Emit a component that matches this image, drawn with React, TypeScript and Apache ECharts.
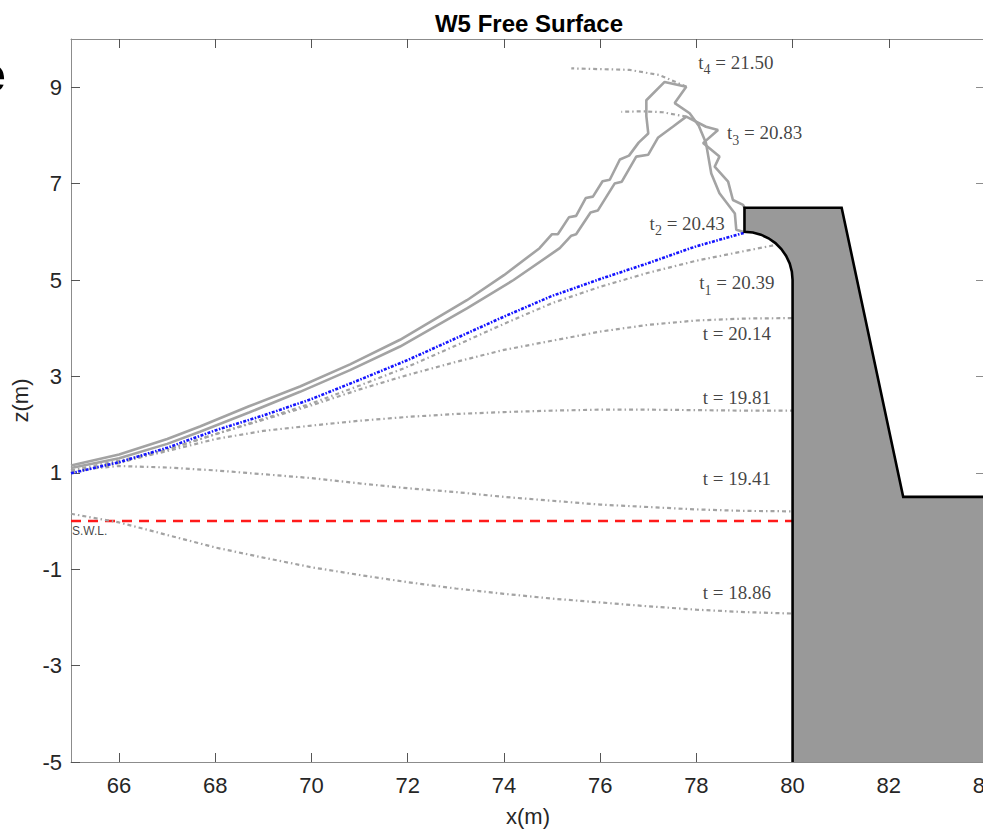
import React, { useEffect, useRef } from "react";
import * as echarts from "echarts";

// ---- axis ticks ----
const xTicks = [66, 68, 70, 72, 74, 76, 78, 80, 82, 84];
const zTicks = [-5, -3, -1, 1, 3, 5, 7, 9];

// ---- free surface profiles ----
const xT1886 = [65, 66, 67, 68, 69, 70, 71, 72, 73, 74, 75, 76, 77, 78, 79, 80];
const zT1886 = [0.15, -0.03, -0.29, -0.55, -0.76, -0.96, -1.12, -1.27, -1.4, -1.51, -1.61, -1.69, -1.77, -1.84, -1.89, -1.92];

const xT1941 = [65, 66, 67, 68, 69, 70, 71, 72, 73, 74, 75, 76, 77, 78, 79, 80];
const zT1941 = [1.05, 1.14, 1.11, 1.05, 0.97, 0.89, 0.78, 0.68, 0.6, 0.5, 0.42, 0.34, 0.29, 0.24, 0.21, 0.2];

const xT1981 = [65, 66, 67, 68, 69, 70, 71, 72, 73, 74, 75, 76, 77, 78, 79, 80];
const zT1981 = [1.0, 1.22, 1.45, 1.7, 1.87, 1.98, 2.08, 2.16, 2.22, 2.26, 2.29, 2.31, 2.31, 2.3, 2.29, 2.29];

const xT2014 = [65, 66, 67, 68, 69, 70, 71, 72, 73, 74, 75, 76, 77, 78, 79, 80];
const zT2014 = [1.05, 1.25, 1.48, 1.8, 2.1, 2.4, 2.73, 3.03, 3.3, 3.55, 3.74, 3.93, 4.07, 4.16, 4.2, 4.21];

const xT1 = [65, 66, 67, 68, 69, 70, 71, 72, 73, 74, 75, 76, 77, 78, 79, 79.66];
const zT1 = [1.0, 1.2, 1.48, 1.8, 2.12, 2.44, 2.81, 3.2, 3.64, 4.09, 4.52, 4.86, 5.15, 5.4, 5.6, 5.73];

const xT2 = [65, 66, 67, 68, 69, 70, 71, 72, 73, 74, 75, 76, 77, 78, 79];
const zT2 = [0.99, 1.22, 1.52, 1.88, 2.19, 2.53, 2.93, 3.34, 3.79, 4.24, 4.67, 5.02, 5.35, 5.7, 5.98];

const xT3 = [65, 66, 67, 67.68, 68.7, 69.76, 70.8, 71.84, 73.23, 74.2, 75.16, 75.4, 75.5, 75.8, 75.95, 76.3, 76.45, 76.75, 77.0, 77.2, 77.51, 77.79,
  78.2, 78.45, 78.14, 78.48, 78.38, 78.66, 78.76, 78.97, 79.0];
const zT3 = [1.1, 1.3, 1.6, 1.85, 2.25, 2.68, 3.13, 3.62, 4.41, 5.0, 5.66, 5.92, 5.95, 6.4, 6.44, 7.0, 7.04, 7.56, 7.6, 7.95, 8.18, 8.39,
  8.18, 8.11, 7.84, 7.56, 7.35, 7.04, 6.66, 6.56, 6.5];
const xT3tip = [77.79, 77.3, 76.9, 76.44];
const zT3tip = [8.39, 8.48, 8.5, 8.49];

const xT4 = [65, 66, 67, 67.68, 68.7, 69.76, 70.8, 71.84, 73.23, 74.0, 74.74, 75.0, 75.12, 75.35, 75.5, 75.7, 75.85, 76.05, 76.2, 76.41, 76.6, 76.8, 77.0, 76.96, 76.96, 77.34, 77.79,
  77.55, 77.86, 78.05, 78.2, 78.31, 78.48, 78.8, 78.83, 78.97];
const zT4 = [1.15, 1.38, 1.7, 1.96, 2.38, 2.79, 3.25, 3.76, 4.58, 5.1, 5.66, 5.95, 5.95, 6.3, 6.33, 6.7, 6.73, 7.05, 7.08, 7.5, 7.58, 7.85, 8.04, 8.4, 8.73, 9.11, 9.01,
  8.67, 8.46, 8.2, 7.84, 7.21, 6.8, 6.38, 6.04, 6.0];
const xT4tip = [77.79, 77.24, 76.61, 75.4];
const zT4tip = [9.01, 9.25, 9.36, 9.39];

// ---- still water level ----
const xSWL = [65, 80];
const zSWL = [0, 0];

// ---- seawall outline (last point closes the fill) ----
const wallX = [80, 80, 79.985, 79.94, 79.866, 79.766, 79.643, 79.5, 79.342, 79.174, 79, 79, 81.02, 82.3, 84, 84];
const wallZ = [-5, 5, 5.174, 5.342, 5.5, 5.643, 5.766, 5.866, 5.94, 5.985, 6, 6.5, 6.5, 0.5, 0.5, -5];

// ---- annotations ----
const labelText = ["t = 18.86", "t = 19.41", "t = 19.81", "t = 20.14", "{m|t}{s|1}{m| = 20.39}", "{m|t}{s|2}{m| = 20.43}", "{m|t}{s|3}{m| = 20.83}", "{m|t}{s|4}{m| = 21.50}"];
const labelX = [78.84, 78.84, 78.84, 78.84, 78.84, 77.81, 79.42, 78.82];
const labelZ = [-1.49, 0.89, 2.57, 3.9, 4.89, 6.13, 8.0, 9.47];

const pairs = (xs: number[], zs: number[]) => xs.map((x, i) => [x, zs[i]]);

const GRAY = "#a3a3a3";
const dashDot = (color: string, width: number) => ({ color, width, type: [4, 3, 1.5, 3] as number[] });

function buildOption() {
  const axisColor = "#8c8c8c";
  const labelColor = "#262626";
  const font = "'Liberation Sans', Arial, sans-serif";
  const serif = "'Liberation Serif', 'Times New Roman', serif";

  const profile = (name: string, xs: number[], zs: number[], ls: any) => ({
    name,
    type: "line",
    data: pairs(xs, zs),
    symbol: "none",
    lineStyle: ls,
    z: 2,
    silent: true,
  });

  return {
    animation: false,
    backgroundColor: "#ffffff",
    title: {
      text: "W5 Free Surface",
      left: 524,
      textAlign: "center",
      top: 6,
      textStyle: { fontSize: 24, fontWeight: "bold", color: "#000", fontFamily: font },
    },
    graphic: [
      {
        type: "text",
        left: -22,
        top: 50,
        style: { text: "e", font: "bold 50px 'Liberation Sans', Arial, sans-serif", fill: "#000" },
      },
    ],
    grid: { left: 71, right: -2, top: 39, bottom: 67, outerBoundsMode: "none", containLabel: false },
    xAxis: [
      {
        type: "value",
        min: 65,
        max: 84,
        position: "bottom",
        axisLine: { show: true, onZero: false, lineStyle: { color: axisColor, width: 1 } },
        axisTick: { show: true, inside: true, length: 9, customValues: xTicks, lineStyle: { color: "#555" } },
        axisLabel: { customValues: xTicks, fontSize: 22, color: labelColor, fontFamily: font, margin: 12 },
        splitLine: { show: false },
        name: "x(m)",
        nameLocation: "middle",
        nameGap: 43,
        nameTextStyle: { fontSize: 22, color: labelColor, fontFamily: font },
      },
      {
        type: "value",
        min: 65,
        max: 84,
        position: "top",
        axisLine: { show: true, onZero: false, lineStyle: { color: axisColor, width: 1 } },
        axisTick: { show: true, inside: true, length: 9, customValues: xTicks, lineStyle: { color: "#555" } },
        axisLabel: { show: false },
        splitLine: { show: false },
      },
    ],
    yAxis: [
      {
        type: "value",
        min: -5,
        max: 10,
        position: "left",
        axisLine: { show: true, onZero: false, lineStyle: { color: axisColor, width: 1 } },
        axisTick: { show: true, inside: true, length: 9, customValues: zTicks, lineStyle: { color: "#555" } },
        axisLabel: { customValues: zTicks, fontSize: 22, color: labelColor, fontFamily: font, margin: 9 },
        splitLine: { show: false },
        name: "z(m)",
        nameLocation: "middle",
        nameGap: 40,
        nameRotate: 90,
        nameTextStyle: { fontSize: 22, color: labelColor, fontFamily: font },
      },
      {
        type: "value",
        min: -5,
        max: 10,
        position: "right",
        axisLine: { show: true, onZero: false, lineStyle: { color: axisColor, width: 1 } },
        axisTick: { show: true, inside: true, length: 9, customValues: zTicks },
        axisLabel: { show: false },
        splitLine: { show: false },
      },
    ],
    series: [
      {
        name: "S.W.L.",
        type: "line",
        data: pairs(xSWL, zSWL),
        symbol: "none",
        lineStyle: { color: "#ff1a1a", width: 2.5, type: [10, 7] },
        z: 2,
        silent: true,
      },
      profile("t = 18.86", xT1886, zT1886, dashDot(GRAY, 2.2)),
      profile("t = 19.41", xT1941, zT1941, dashDot(GRAY, 2.2)),
      profile("t = 19.81", xT1981, zT1981, dashDot(GRAY, 2.2)),
      profile("t = 20.14", xT2014, zT2014, dashDot(GRAY, 2.2)),
      profile("t1 = 20.39", xT1, zT1, dashDot(GRAY, 2.2)),
      profile("t3 = 20.83", xT3, zT3, { color: GRAY, width: 2.6, type: "solid" }),
      profile("t3 tip", xT3tip, zT3tip, { color: GRAY, width: 2.2, type: [4, 3, 1.5, 3] }),
      profile("t4 = 21.50", xT4, zT4, { color: GRAY, width: 2.6, type: "solid" }),
      profile("t4 tip", xT4tip, zT4tip, { color: GRAY, width: 2.2, type: [4, 3, 1.5, 3] }),
      profile("t2 = 20.43", xT2, zT2, { color: "#1414ff", width: 2.6, type: [3, 1.5, 1.5, 1.5] }),
      {
        name: "wall",
        type: "custom",
        data: [[80, 0]],
        z: 4,
        silent: true,
        renderItem: (_params: any, api: any) => {
          const pts = wallX.map((x, i) => api.coord([x, wallZ[i]]));
          return {
            type: "group",
            children: [
              { type: "polygon", shape: { points: pts }, style: { fill: "#999999", stroke: null } },
              { type: "polyline", shape: { points: pts.slice(0, pts.length - 1) }, style: { fill: null, stroke: "#000", lineWidth: 2.6 } },
            ],
          };
        },
      },
      {
        name: "labels",
        type: "scatter",
        symbolSize: 0,
        z: 6,
        silent: true,
        data: labelText.map((t, i) => ({
          value: [labelX[i], labelZ[i]],
          label: { formatter: t },
        })),
        label: {
          show: true,
          position: "inside",
          fontFamily: serif,
          fontSize: 19,
          color: "#111",
          rich: {
            m: { fontFamily: serif, fontSize: 19, color: "#111", lineHeight: 20, verticalAlign: "top" },
            s: { fontFamily: serif, fontSize: 14, color: "#111", lineHeight: 24, verticalAlign: "bottom" },
          },
        },
      },
      {
        name: "swl-label",
        type: "scatter",
        symbolSize: 0,
        z: 6,
        silent: true,
        data: [[65.02, -0.2]],
        label: {
          show: true,
          position: "inside",
          align: "left",
          formatter: "S.W.L.",
          fontFamily: "'Liberation Sans', Arial, sans-serif",
          fontSize: 12,
          color: "#111",
        },
      },
    ],
  };
}

export default function App() {
  const ref = useRef<HTMLDivElement>(null);
  useEffect(() => {
    if (!ref.current) return;
    const chart = echarts.init(ref.current, null, { renderer: "svg" });
    chart.setOption(buildOption() as any);
    return () => chart.dispose();
  }, []);
  return (
    <div
      ref={ref}
      style={{ position: "absolute", left: 0, top: 0, width: 983, height: 829, background: "#fff" }}
    />
  );
}
